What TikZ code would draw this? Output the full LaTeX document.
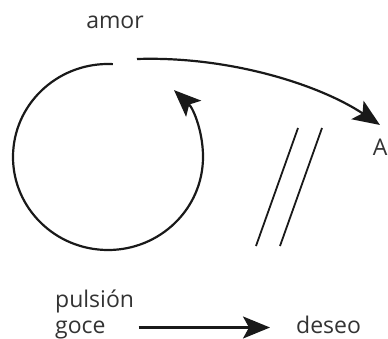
\documentclass[tikz,border=0pt]{standalone}
\usepackage{fontspec}
\setmainfont{Open Sans}
\usetikzlibrary{positioning,arrows.meta}

\begin{document}
\begin{tikzpicture}[
    x=1pt, y=1pt,
    lbl/.style={font=\fontsize{23}{27}\selectfont, text=black!80, inner sep=0pt, text height=16pt, text depth=5pt},
    curve/.style={line width=2.2pt, black!90},
    arrow/.style={curve, -{Stealth[length=27pt, width=22pt, inset=6pt]}},
    slash/.style={line width=1.8pt, black!90}
  ]
  \useasboundingbox (0,0) rectangle (388,338);

  % Labels
  \node[lbl] (amor) at (115,315) {amor};
  \node[lbl, anchor=base west] (pulsion) at (55,31) {pulsión};
  \node[lbl, anchor=base west] (goce) at (55,5) {goce};
  \node[lbl, anchor=base west] (deseo) at (296,5) {deseo};
  \node[lbl, anchor=east] (A) at (387.5,188) {A};

  % Loop
  \coordinate (loop) at (108,181);
  \draw[arrow] ([shift={(87:95 and 93)}]loop) arc[start angle=87, end angle=406, x radius=95, y radius=93];

  % Arrow from the loop to A
  \coordinate (gap) at (137,279);
  \coordinate (tip) at (380,213);
  \draw[arrow] (gap) .. controls (230,282) and (320,253) .. (tip);

  % Bar
  \draw[slash] (256,92) -- (298,210);
  \draw[slash] (280,92) -- (322,210);

  % Bottom arrow
  \draw[arrow] ([xshift=33pt]goce.east) -- ([xshift=-26pt]deseo.west);
\end{tikzpicture}
\end{document}
